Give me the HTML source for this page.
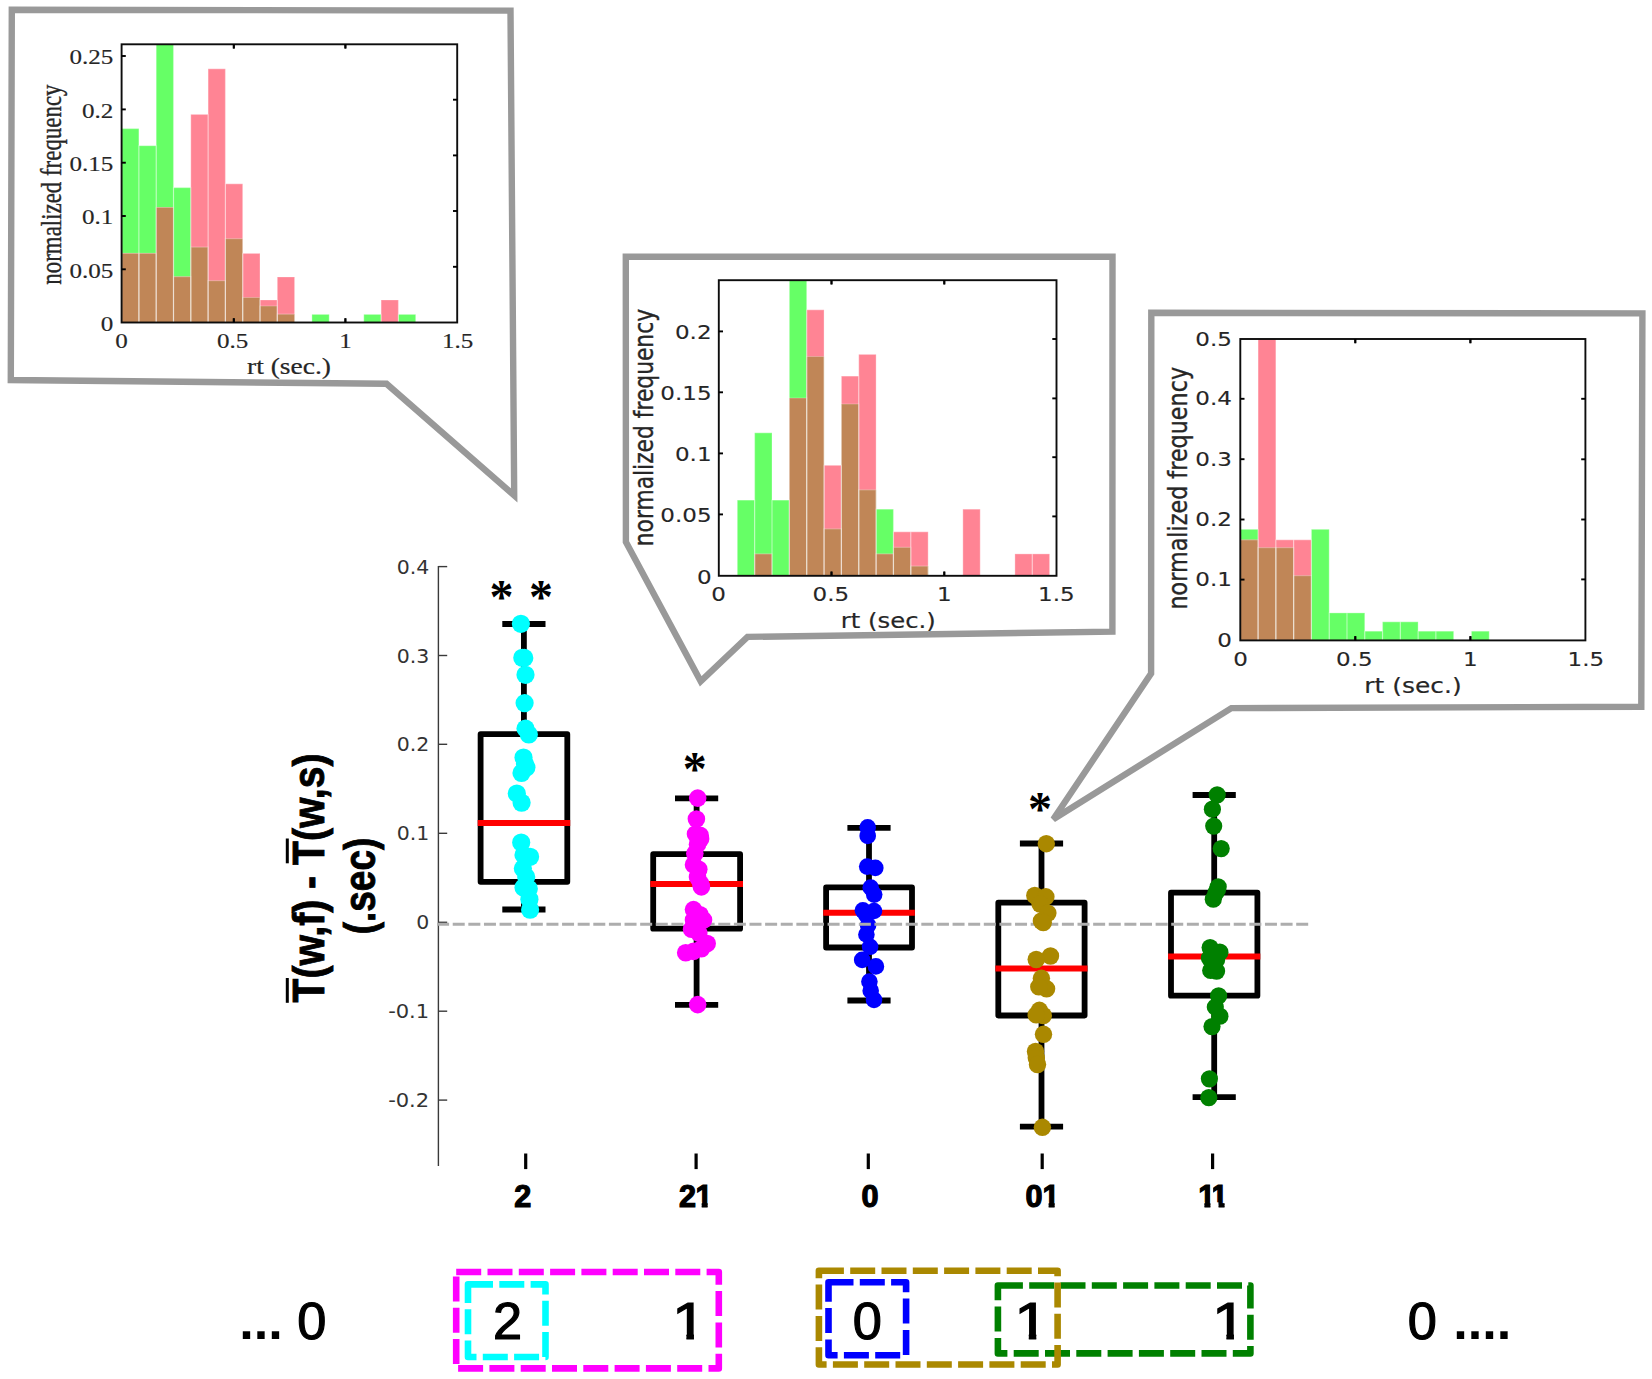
<!DOCTYPE html>
<html lang="en"><head><meta charset="utf-8"><title>Figure</title>
<style>html,body{margin:0;padding:0;background:#fff;overflow:hidden}svg{display:block}text{white-space:pre}</style></head><body>
<svg width="1652" height="1379" viewBox="0 0 1652 1379">
<rect width="1652" height="1379" fill="#fff"/>
<polygon points="11.8,9.7 510.5,10.6 514.2,495.4 386.5,383.8 10.8,380" fill="#fff" stroke="#999999" stroke-width="6.4" stroke-linejoin="miter"/>
<polygon points="625.8,256.7 1112.5,256.7 1112.4,631.6 747.5,636.9 700.7,681.2 625.9,542" fill="#fff" stroke="#999999" stroke-width="6.4" stroke-linejoin="miter"/>
<polygon points="1151.3,312.8 1642.4,313.4 1641.3,706.8 1231.4,708.1 1053.3,819.3 1151.1,673.5" fill="#fff" stroke="#999999" stroke-width="6.4" stroke-linejoin="miter"/>
<rect x="121.6" y="128.6" width="17.3" height="193.9" fill="#66ff66"/>
<rect x="121.6" y="253.4" width="17.3" height="69.1" fill="#ff8494"/>
<rect x="121.6" y="253.4" width="17.3" height="69.1" fill="#c08657"/>
<rect x="138.9" y="145.7" width="17.3" height="176.8" fill="#66ff66"/>
<rect x="138.9" y="253.4" width="17.3" height="69.1" fill="#ff8494"/>
<rect x="138.9" y="253.4" width="17.3" height="69.1" fill="#c08657"/>
<rect x="156.2" y="44.3" width="17.3" height="278.2" fill="#66ff66"/>
<rect x="156.2" y="207.5" width="17.3" height="115" fill="#ff8494"/>
<rect x="156.2" y="207.5" width="17.3" height="115" fill="#c08657"/>
<rect x="173.5" y="187.6" width="17.3" height="134.9" fill="#66ff66"/>
<rect x="173.5" y="276.7" width="17.3" height="45.8" fill="#ff8494"/>
<rect x="173.5" y="276.7" width="17.3" height="45.8" fill="#c08657"/>
<rect x="190.8" y="247.1" width="17.3" height="75.4" fill="#66ff66"/>
<rect x="190.8" y="114.4" width="17.3" height="208.1" fill="#ff8494"/>
<rect x="190.8" y="247.1" width="17.3" height="75.4" fill="#c08657"/>
<rect x="208.1" y="280.7" width="17.3" height="41.8" fill="#66ff66"/>
<rect x="208.1" y="68.8" width="17.3" height="253.7" fill="#ff8494"/>
<rect x="208.1" y="280.7" width="17.3" height="41.8" fill="#c08657"/>
<rect x="225.4" y="238.7" width="17.3" height="83.8" fill="#66ff66"/>
<rect x="225.4" y="183.8" width="17.3" height="138.7" fill="#ff8494"/>
<rect x="225.4" y="238.7" width="17.3" height="83.8" fill="#c08657"/>
<rect x="242.7" y="297.5" width="17.3" height="25" fill="#66ff66"/>
<rect x="242.7" y="253.4" width="17.3" height="69.1" fill="#ff8494"/>
<rect x="242.7" y="297.5" width="17.3" height="25" fill="#c08657"/>
<rect x="260" y="306" width="17.3" height="16.5" fill="#66ff66"/>
<rect x="260" y="300" width="17.3" height="22.5" fill="#ff8494"/>
<rect x="260" y="306" width="17.3" height="16.5" fill="#c08657"/>
<rect x="277.3" y="314.2" width="17.3" height="8.3" fill="#66ff66"/>
<rect x="277.3" y="277" width="17.3" height="45.5" fill="#ff8494"/>
<rect x="277.3" y="314.2" width="17.3" height="8.3" fill="#c08657"/>
<rect x="311.9" y="314.4" width="17.3" height="8.1" fill="#66ff66"/>
<rect x="363.8" y="314.4" width="17.3" height="8.1" fill="#66ff66"/>
<rect x="381.1" y="300" width="17.3" height="22.5" fill="#ff8494"/>
<rect x="398.4" y="314.4" width="17.3" height="8.1" fill="#66ff66"/>
<g fill="none" stroke="#fff" stroke-opacity="0.26" stroke-width="1.2">
<path d="M121.6 322.5 V128.6 H138.9 V322.5"/>
<path d="M121.6 322.5 V253.4 H138.9 V322.5"/>
<path d="M138.9 322.5 V145.7 H156.2 V322.5"/>
<path d="M138.9 322.5 V253.4 H156.2 V322.5"/>
<path d="M156.2 322.5 V42.3 H173.5 V322.5"/>
<path d="M156.2 322.5 V207.5 H173.5 V322.5"/>
<path d="M173.5 322.5 V187.6 H190.8 V322.5"/>
<path d="M173.5 322.5 V276.7 H190.8 V322.5"/>
<path d="M190.8 322.5 V247.1 H208.1 V322.5"/>
<path d="M190.8 322.5 V114.4 H208.1 V322.5"/>
<path d="M208.1 322.5 V280.7 H225.4 V322.5"/>
<path d="M208.1 322.5 V68.8 H225.4 V322.5"/>
<path d="M225.4 322.5 V238.7 H242.7 V322.5"/>
<path d="M225.4 322.5 V183.8 H242.7 V322.5"/>
<path d="M242.7 322.5 V297.5 H260 V322.5"/>
<path d="M242.7 322.5 V253.4 H260 V322.5"/>
<path d="M260 322.5 V306 H277.3 V322.5"/>
<path d="M260 322.5 V300 H277.3 V322.5"/>
<path d="M277.3 322.5 V314.2 H294.6 V322.5"/>
<path d="M277.3 322.5 V277 H294.6 V322.5"/>
<path d="M311.9 322.5 V314.4 H329.2 V322.5"/>
<path d="M363.8 322.5 V314.4 H381.1 V322.5"/>
<path d="M381.1 322.5 V300 H398.4 V322.5"/>
<path d="M398.4 322.5 V314.4 H415.7 V322.5"/>
</g>
<rect x="121.6" y="44.3" width="335.6" height="278.2" fill="none" stroke="#0d0d0d" stroke-width="1.9"/>
<line x1="121.6" y1="56" x2="125.8" y2="56" stroke="#000" stroke-width="1.9"/>
<text transform="translate(113.4 64.42) scale(1.2 1)" font-family="'Liberation Serif', serif" font-size="20.9" text-anchor="end" font-weight="normal" fill="#262626" stroke="#262626" stroke-width="0.15">0.25</text>
<line x1="121.6" y1="109.4" x2="125.8" y2="109.4" stroke="#000" stroke-width="1.9"/>
<text transform="translate(113.4 117.82) scale(1.2 1)" font-family="'Liberation Serif', serif" font-size="20.9" text-anchor="end" font-weight="normal" fill="#262626" stroke="#262626" stroke-width="0.15">0.2</text>
<line x1="121.6" y1="162.7" x2="125.8" y2="162.7" stroke="#000" stroke-width="1.9"/>
<text transform="translate(113.4 171.12) scale(1.2 1)" font-family="'Liberation Serif', serif" font-size="20.9" text-anchor="end" font-weight="normal" fill="#262626" stroke="#262626" stroke-width="0.15">0.15</text>
<line x1="121.6" y1="216" x2="125.8" y2="216" stroke="#000" stroke-width="1.9"/>
<text transform="translate(113.4 224.42) scale(1.2 1)" font-family="'Liberation Serif', serif" font-size="20.9" text-anchor="end" font-weight="normal" fill="#262626" stroke="#262626" stroke-width="0.15">0.1</text>
<line x1="121.6" y1="269.3" x2="125.8" y2="269.3" stroke="#000" stroke-width="1.9"/>
<text transform="translate(113.4 277.72) scale(1.2 1)" font-family="'Liberation Serif', serif" font-size="20.9" text-anchor="end" font-weight="normal" fill="#262626" stroke="#262626" stroke-width="0.15">0.05</text>
<text transform="translate(113.4 330.92) scale(1.2 1)" font-family="'Liberation Serif', serif" font-size="20.9" text-anchor="end" font-weight="normal" fill="#262626" stroke="#262626" stroke-width="0.15">0</text>
<line x1="453" y1="99.7" x2="457.2" y2="99.7" stroke="#000" stroke-width="1.9"/>
<line x1="453" y1="155.4" x2="457.2" y2="155.4" stroke="#000" stroke-width="1.9"/>
<line x1="453" y1="211" x2="457.2" y2="211" stroke="#000" stroke-width="1.9"/>
<line x1="453" y1="266.8" x2="457.2" y2="266.8" stroke="#000" stroke-width="1.9"/>
<line x1="233.8" y1="322.5" x2="233.8" y2="318.3" stroke="#000" stroke-width="1.9"/>
<line x1="233.8" y1="44.3" x2="233.8" y2="48.5" stroke="#000" stroke-width="1.9"/>
<text transform="translate(121.4 348.3) scale(1.2 1)" font-family="'Liberation Serif', serif" font-size="20.9" text-anchor="middle" font-weight="normal" fill="#262626" stroke="#262626" stroke-width="0.15">0</text>
<line x1="233.8" y1="322.5" x2="233.8" y2="318.3" stroke="#000" stroke-width="1.9"/>
<line x1="233.8" y1="44.3" x2="233.8" y2="48.5" stroke="#000" stroke-width="1.9"/>
<text transform="translate(232.6 348.3) scale(1.2 1)" font-family="'Liberation Serif', serif" font-size="20.9" text-anchor="middle" font-weight="normal" fill="#262626" stroke="#262626" stroke-width="0.15">0.5</text>
<line x1="345.4" y1="322.5" x2="345.4" y2="318.3" stroke="#000" stroke-width="1.9"/>
<line x1="345.4" y1="44.3" x2="345.4" y2="48.5" stroke="#000" stroke-width="1.9"/>
<text transform="translate(345.5 348.3) scale(1.2 1)" font-family="'Liberation Serif', serif" font-size="20.9" text-anchor="middle" font-weight="normal" fill="#262626" stroke="#262626" stroke-width="0.15">1</text>
<line x1="345.4" y1="322.5" x2="345.4" y2="318.3" stroke="#000" stroke-width="1.9"/>
<line x1="345.4" y1="44.3" x2="345.4" y2="48.5" stroke="#000" stroke-width="1.9"/>
<text transform="translate(457.6 348.3) scale(1.2 1)" font-family="'Liberation Serif', serif" font-size="20.9" text-anchor="middle" font-weight="normal" fill="#262626" stroke="#262626" stroke-width="0.15">1.5</text>
<text transform="translate(61 184.6) scale(1.24 1) rotate(-90)" font-family="'Liberation Serif', serif" font-size="22.9" text-anchor="middle" font-weight="normal" fill="#262626" stroke="#262626" stroke-width="0.3">normalized frequency</text>
<text transform="translate(289 374.4) scale(1.2 1)" font-family="'Liberation Serif', serif" font-size="22.9" text-anchor="middle" font-weight="normal" fill="#262626" stroke="#262626" stroke-width="0.2">rt (sec.)</text>
<rect x="737.3" y="500.1" width="17.35" height="75.7" fill="#66ff66"/>
<rect x="754.65" y="432.8" width="17.35" height="143" fill="#66ff66"/>
<rect x="754.65" y="553.9" width="17.35" height="21.9" fill="#ff8494"/>
<rect x="754.65" y="553.9" width="17.35" height="21.9" fill="#c08657"/>
<rect x="772" y="500.1" width="17.35" height="75.7" fill="#66ff66"/>
<rect x="789.35" y="280.2" width="17.35" height="295.6" fill="#66ff66"/>
<rect x="789.35" y="398" width="17.35" height="177.8" fill="#ff8494"/>
<rect x="789.35" y="398" width="17.35" height="177.8" fill="#c08657"/>
<rect x="806.7" y="356.5" width="17.35" height="219.3" fill="#66ff66"/>
<rect x="806.7" y="309.8" width="17.35" height="266" fill="#ff8494"/>
<rect x="806.7" y="356.5" width="17.35" height="219.3" fill="#c08657"/>
<rect x="824.05" y="528.8" width="17.35" height="47" fill="#66ff66"/>
<rect x="824.05" y="465.3" width="17.35" height="110.5" fill="#ff8494"/>
<rect x="824.05" y="528.8" width="17.35" height="47" fill="#c08657"/>
<rect x="841.4" y="404" width="17.35" height="171.8" fill="#66ff66"/>
<rect x="841.4" y="376.1" width="17.35" height="199.7" fill="#ff8494"/>
<rect x="841.4" y="404" width="17.35" height="171.8" fill="#c08657"/>
<rect x="858.75" y="489.8" width="17.35" height="86" fill="#66ff66"/>
<rect x="858.75" y="354.4" width="17.35" height="221.4" fill="#ff8494"/>
<rect x="858.75" y="489.8" width="17.35" height="86" fill="#c08657"/>
<rect x="876.1" y="509.2" width="17.35" height="66.6" fill="#66ff66"/>
<rect x="876.1" y="553.9" width="17.35" height="21.9" fill="#ff8494"/>
<rect x="876.1" y="553.9" width="17.35" height="21.9" fill="#c08657"/>
<rect x="893.45" y="547.3" width="17.35" height="28.5" fill="#66ff66"/>
<rect x="893.45" y="531.8" width="17.35" height="44" fill="#ff8494"/>
<rect x="893.45" y="547.3" width="17.35" height="28.5" fill="#c08657"/>
<rect x="910.8" y="566.1" width="17.35" height="9.7" fill="#66ff66"/>
<rect x="910.8" y="531.8" width="17.35" height="44" fill="#ff8494"/>
<rect x="910.8" y="566.1" width="17.35" height="9.7" fill="#c08657"/>
<rect x="962.85" y="509.2" width="17.35" height="66.6" fill="#ff8494"/>
<rect x="1014.9" y="553.9" width="17.35" height="21.9" fill="#ff8494"/>
<rect x="1032.25" y="553.9" width="17.35" height="21.9" fill="#ff8494"/>
<g fill="none" stroke="#fff" stroke-opacity="0.26" stroke-width="1.2">
<path d="M737.3 575.8 V500.1 H754.65 V575.8"/>
<path d="M754.65 575.8 V432.8 H772 V575.8"/>
<path d="M754.65 575.8 V553.9 H772 V575.8"/>
<path d="M772 575.8 V500.1 H789.35 V575.8"/>
<path d="M789.35 575.8 V278.2 H806.7 V575.8"/>
<path d="M789.35 575.8 V398 H806.7 V575.8"/>
<path d="M806.7 575.8 V356.5 H824.05 V575.8"/>
<path d="M806.7 575.8 V309.8 H824.05 V575.8"/>
<path d="M824.05 575.8 V528.8 H841.4 V575.8"/>
<path d="M824.05 575.8 V465.3 H841.4 V575.8"/>
<path d="M841.4 575.8 V404 H858.75 V575.8"/>
<path d="M841.4 575.8 V376.1 H858.75 V575.8"/>
<path d="M858.75 575.8 V489.8 H876.1 V575.8"/>
<path d="M858.75 575.8 V354.4 H876.1 V575.8"/>
<path d="M876.1 575.8 V509.2 H893.45 V575.8"/>
<path d="M876.1 575.8 V553.9 H893.45 V575.8"/>
<path d="M893.45 575.8 V547.3 H910.8 V575.8"/>
<path d="M893.45 575.8 V531.8 H910.8 V575.8"/>
<path d="M910.8 575.8 V566.1 H928.15 V575.8"/>
<path d="M910.8 575.8 V531.8 H928.15 V575.8"/>
<path d="M962.85 575.8 V509.2 H980.2 V575.8"/>
<path d="M1014.9 575.8 V553.9 H1032.25 V575.8"/>
<path d="M1032.25 575.8 V553.9 H1049.6 V575.8"/>
</g>
<rect x="718.8" y="280.2" width="337.7" height="295.6" fill="none" stroke="#0d0d0d" stroke-width="1.9"/>
<line x1="718.8" y1="331.4" x2="723" y2="331.4" stroke="#000" stroke-width="1.9"/>
<text transform="translate(711.6 339.17) scale(1.14 1)" font-family="'DejaVu Sans', 'Liberation Sans', sans-serif" font-size="20.2" text-anchor="end" font-weight="normal" fill="#262626" stroke="#262626" stroke-width="0.12">0.2</text>
<line x1="718.8" y1="392.3" x2="723" y2="392.3" stroke="#000" stroke-width="1.9"/>
<text transform="translate(711.6 400.07) scale(1.14 1)" font-family="'DejaVu Sans', 'Liberation Sans', sans-serif" font-size="20.2" text-anchor="end" font-weight="normal" fill="#262626" stroke="#262626" stroke-width="0.12">0.15</text>
<line x1="718.8" y1="453.4" x2="723" y2="453.4" stroke="#000" stroke-width="1.9"/>
<text transform="translate(711.6 461.17) scale(1.14 1)" font-family="'DejaVu Sans', 'Liberation Sans', sans-serif" font-size="20.2" text-anchor="end" font-weight="normal" fill="#262626" stroke="#262626" stroke-width="0.12">0.1</text>
<line x1="718.8" y1="514.4" x2="723" y2="514.4" stroke="#000" stroke-width="1.9"/>
<text transform="translate(711.6 522.17) scale(1.14 1)" font-family="'DejaVu Sans', 'Liberation Sans', sans-serif" font-size="20.2" text-anchor="end" font-weight="normal" fill="#262626" stroke="#262626" stroke-width="0.12">0.05</text>
<text transform="translate(711.6 583.57) scale(1.14 1)" font-family="'DejaVu Sans', 'Liberation Sans', sans-serif" font-size="20.2" text-anchor="end" font-weight="normal" fill="#262626" stroke="#262626" stroke-width="0.12">0</text>
<line x1="1052.3" y1="339" x2="1056.5" y2="339" stroke="#000" stroke-width="1.9"/>
<line x1="1052.3" y1="398.4" x2="1056.5" y2="398.4" stroke="#000" stroke-width="1.9"/>
<line x1="1052.3" y1="457.2" x2="1056.5" y2="457.2" stroke="#000" stroke-width="1.9"/>
<line x1="1052.3" y1="516.4" x2="1056.5" y2="516.4" stroke="#000" stroke-width="1.9"/>
<line x1="831.5" y1="575.8" x2="831.5" y2="571.6" stroke="#000" stroke-width="1.9"/>
<line x1="831.5" y1="280.2" x2="831.5" y2="284.4" stroke="#000" stroke-width="1.9"/>
<text transform="translate(718.7 601.3) scale(1.14 1)" font-family="'DejaVu Sans', 'Liberation Sans', sans-serif" font-size="20.2" text-anchor="middle" font-weight="normal" fill="#262626" stroke="#262626" stroke-width="0.12">0</text>
<line x1="831.5" y1="575.8" x2="831.5" y2="571.6" stroke="#000" stroke-width="1.9"/>
<line x1="831.5" y1="280.2" x2="831.5" y2="284.4" stroke="#000" stroke-width="1.9"/>
<text transform="translate(830.8 601.3) scale(1.14 1)" font-family="'DejaVu Sans', 'Liberation Sans', sans-serif" font-size="20.2" text-anchor="middle" font-weight="normal" fill="#262626" stroke="#262626" stroke-width="0.12">0.5</text>
<line x1="944.3" y1="575.8" x2="944.3" y2="571.6" stroke="#000" stroke-width="1.9"/>
<line x1="944.3" y1="280.2" x2="944.3" y2="284.4" stroke="#000" stroke-width="1.9"/>
<text transform="translate(944.3 601.3) scale(1.14 1)" font-family="'DejaVu Sans', 'Liberation Sans', sans-serif" font-size="20.2" text-anchor="middle" font-weight="normal" fill="#262626" stroke="#262626" stroke-width="0.12">1</text>
<line x1="944.3" y1="575.8" x2="944.3" y2="571.6" stroke="#000" stroke-width="1.9"/>
<line x1="944.3" y1="280.2" x2="944.3" y2="284.4" stroke="#000" stroke-width="1.9"/>
<text transform="translate(1056.4 601.3) scale(1.14 1)" font-family="'DejaVu Sans', 'Liberation Sans', sans-serif" font-size="20.2" text-anchor="middle" font-weight="normal" fill="#262626" stroke="#262626" stroke-width="0.12">1.5</text>
<text transform="translate(652.6 427.6) scale(1.2 1) rotate(-90)" font-family="'DejaVu Sans', 'Liberation Sans', sans-serif" font-size="21.8" text-anchor="middle" font-weight="normal" fill="#262626" stroke="#262626" stroke-width="0.3">normalized frequency</text>
<text transform="translate(888.3 627.5) scale(1.18 1)" font-family="'DejaVu Sans', 'Liberation Sans', sans-serif" font-size="20.6" text-anchor="middle" font-weight="normal" fill="#262626" stroke="#262626" stroke-width="0.18">rt (sec.)</text>
<rect x="1240.3" y="529.3" width="17.78" height="111.1" fill="#66ff66"/>
<rect x="1240.3" y="539.8" width="17.78" height="100.6" fill="#ff8494"/>
<rect x="1240.3" y="539.8" width="17.78" height="100.6" fill="#c08657"/>
<rect x="1258.08" y="547.6" width="17.78" height="92.8" fill="#66ff66"/>
<rect x="1258.08" y="339" width="17.78" height="301.4" fill="#ff8494"/>
<rect x="1258.08" y="547.6" width="17.78" height="92.8" fill="#c08657"/>
<rect x="1275.86" y="547.6" width="17.78" height="92.8" fill="#66ff66"/>
<rect x="1275.86" y="539.8" width="17.78" height="100.6" fill="#ff8494"/>
<rect x="1275.86" y="547.6" width="17.78" height="92.8" fill="#c08657"/>
<rect x="1293.64" y="575.6" width="17.78" height="64.8" fill="#66ff66"/>
<rect x="1293.64" y="539.8" width="17.78" height="100.6" fill="#ff8494"/>
<rect x="1293.64" y="575.6" width="17.78" height="64.8" fill="#c08657"/>
<rect x="1311.42" y="529.3" width="17.78" height="111.1" fill="#66ff66"/>
<rect x="1329.2" y="612.9" width="17.78" height="27.5" fill="#66ff66"/>
<rect x="1346.98" y="612.9" width="17.78" height="27.5" fill="#66ff66"/>
<rect x="1364.76" y="631.2" width="17.78" height="9.2" fill="#66ff66"/>
<rect x="1382.54" y="621.8" width="17.78" height="18.6" fill="#66ff66"/>
<rect x="1400.32" y="621.8" width="17.78" height="18.6" fill="#66ff66"/>
<rect x="1418.1" y="631.2" width="17.78" height="9.2" fill="#66ff66"/>
<rect x="1435.88" y="631.2" width="17.78" height="9.2" fill="#66ff66"/>
<rect x="1471.44" y="631.2" width="17.78" height="9.2" fill="#66ff66"/>
<g fill="none" stroke="#fff" stroke-opacity="0.26" stroke-width="1.2">
<path d="M1240.3 640.4 V529.3 H1258.08 V640.4"/>
<path d="M1240.3 640.4 V539.8 H1258.08 V640.4"/>
<path d="M1258.08 640.4 V547.6 H1275.86 V640.4"/>
<path d="M1258.08 640.4 V337 H1275.86 V640.4"/>
<path d="M1275.86 640.4 V547.6 H1293.64 V640.4"/>
<path d="M1275.86 640.4 V539.8 H1293.64 V640.4"/>
<path d="M1293.64 640.4 V575.6 H1311.42 V640.4"/>
<path d="M1293.64 640.4 V539.8 H1311.42 V640.4"/>
<path d="M1311.42 640.4 V529.3 H1329.2 V640.4"/>
<path d="M1329.2 640.4 V612.9 H1346.98 V640.4"/>
<path d="M1346.98 640.4 V612.9 H1364.76 V640.4"/>
<path d="M1364.76 640.4 V631.2 H1382.54 V640.4"/>
<path d="M1382.54 640.4 V621.8 H1400.32 V640.4"/>
<path d="M1400.32 640.4 V621.8 H1418.1 V640.4"/>
<path d="M1418.1 640.4 V631.2 H1435.88 V640.4"/>
<path d="M1435.88 640.4 V631.2 H1453.66 V640.4"/>
<path d="M1471.44 640.4 V631.2 H1489.22 V640.4"/>
</g>
<rect x="1240.3" y="339" width="345.1" height="301.4" fill="none" stroke="#0d0d0d" stroke-width="1.9"/>
<text transform="translate(1231.9 345.77) scale(1.14 1)" font-family="'DejaVu Sans', 'Liberation Sans', sans-serif" font-size="20.2" text-anchor="end" font-weight="normal" fill="#262626" stroke="#262626" stroke-width="0.12">0.5</text>
<line x1="1240.3" y1="398.8" x2="1244.5" y2="398.8" stroke="#000" stroke-width="1.9"/>
<text transform="translate(1231.9 405.17) scale(1.14 1)" font-family="'DejaVu Sans', 'Liberation Sans', sans-serif" font-size="20.2" text-anchor="end" font-weight="normal" fill="#262626" stroke="#262626" stroke-width="0.12">0.4</text>
<line x1="1240.3" y1="459.2" x2="1244.5" y2="459.2" stroke="#000" stroke-width="1.9"/>
<text transform="translate(1231.9 465.57) scale(1.14 1)" font-family="'DejaVu Sans', 'Liberation Sans', sans-serif" font-size="20.2" text-anchor="end" font-weight="normal" fill="#262626" stroke="#262626" stroke-width="0.12">0.3</text>
<line x1="1240.3" y1="519.5" x2="1244.5" y2="519.5" stroke="#000" stroke-width="1.9"/>
<text transform="translate(1231.9 525.87) scale(1.14 1)" font-family="'DejaVu Sans', 'Liberation Sans', sans-serif" font-size="20.2" text-anchor="end" font-weight="normal" fill="#262626" stroke="#262626" stroke-width="0.12">0.2</text>
<line x1="1240.3" y1="579.6" x2="1244.5" y2="579.6" stroke="#000" stroke-width="1.9"/>
<text transform="translate(1231.9 585.97) scale(1.14 1)" font-family="'DejaVu Sans', 'Liberation Sans', sans-serif" font-size="20.2" text-anchor="end" font-weight="normal" fill="#262626" stroke="#262626" stroke-width="0.12">0.1</text>
<text transform="translate(1231.9 647.17) scale(1.14 1)" font-family="'DejaVu Sans', 'Liberation Sans', sans-serif" font-size="20.2" text-anchor="end" font-weight="normal" fill="#262626" stroke="#262626" stroke-width="0.12">0</text>
<line x1="1581.2" y1="398.8" x2="1585.4" y2="398.8" stroke="#000" stroke-width="1.9"/>
<line x1="1581.2" y1="459.3" x2="1585.4" y2="459.3" stroke="#000" stroke-width="1.9"/>
<line x1="1581.2" y1="519.5" x2="1585.4" y2="519.5" stroke="#000" stroke-width="1.9"/>
<line x1="1581.2" y1="579.4" x2="1585.4" y2="579.4" stroke="#000" stroke-width="1.9"/>
<line x1="1355.3" y1="640.4" x2="1355.3" y2="636.2" stroke="#000" stroke-width="1.9"/>
<line x1="1355.3" y1="339" x2="1355.3" y2="343.2" stroke="#000" stroke-width="1.9"/>
<text transform="translate(1240.5 666.2) scale(1.14 1)" font-family="'DejaVu Sans', 'Liberation Sans', sans-serif" font-size="20.2" text-anchor="middle" font-weight="normal" fill="#262626" stroke="#262626" stroke-width="0.12">0</text>
<line x1="1355.3" y1="640.4" x2="1355.3" y2="636.2" stroke="#000" stroke-width="1.9"/>
<line x1="1355.3" y1="339" x2="1355.3" y2="343.2" stroke="#000" stroke-width="1.9"/>
<text transform="translate(1354.4 666.2) scale(1.14 1)" font-family="'DejaVu Sans', 'Liberation Sans', sans-serif" font-size="20.2" text-anchor="middle" font-weight="normal" fill="#262626" stroke="#262626" stroke-width="0.12">0.5</text>
<line x1="1470.4" y1="640.4" x2="1470.4" y2="636.2" stroke="#000" stroke-width="1.9"/>
<line x1="1470.4" y1="339" x2="1470.4" y2="343.2" stroke="#000" stroke-width="1.9"/>
<text transform="translate(1470.4 666.2) scale(1.14 1)" font-family="'DejaVu Sans', 'Liberation Sans', sans-serif" font-size="20.2" text-anchor="middle" font-weight="normal" fill="#262626" stroke="#262626" stroke-width="0.12">1</text>
<line x1="1470.4" y1="640.4" x2="1470.4" y2="636.2" stroke="#000" stroke-width="1.9"/>
<line x1="1470.4" y1="339" x2="1470.4" y2="343.2" stroke="#000" stroke-width="1.9"/>
<text transform="translate(1585.8 666.2) scale(1.14 1)" font-family="'DejaVu Sans', 'Liberation Sans', sans-serif" font-size="20.2" text-anchor="middle" font-weight="normal" fill="#262626" stroke="#262626" stroke-width="0.12">1.5</text>
<text transform="translate(1187.1 488.2) scale(1.17 1) rotate(-90)" font-family="'DejaVu Sans', 'Liberation Sans', sans-serif" font-size="22.3" text-anchor="middle" font-weight="normal" fill="#262626" stroke="#262626" stroke-width="0.3">normalized frequency</text>
<text transform="translate(1413 692.7) scale(1.21 1)" font-family="'DejaVu Sans', 'Liberation Sans', sans-serif" font-size="20.6" text-anchor="middle" font-weight="normal" fill="#262626" stroke="#262626" stroke-width="0.18">rt (sec.)</text>
<line x1="438.4" y1="566" x2="438.4" y2="1166" stroke="#3a3a3a" stroke-width="1.4"/>
<line x1="438.4" y1="566.6" x2="447.2" y2="566.6" stroke="#3a3a3a" stroke-width="1.4"/>
<text transform="translate(429.2 573.75) scale(1.05 1)" font-family="'DejaVu Sans', 'Liberation Sans', sans-serif" font-size="19.5" text-anchor="end" font-weight="normal" fill="#333" >0.4</text>
<line x1="438.4" y1="655.5" x2="447.2" y2="655.5" stroke="#3a3a3a" stroke-width="1.4"/>
<text transform="translate(429.2 662.65) scale(1.05 1)" font-family="'DejaVu Sans', 'Liberation Sans', sans-serif" font-size="19.5" text-anchor="end" font-weight="normal" fill="#333" >0.3</text>
<line x1="438.4" y1="744.3" x2="447.2" y2="744.3" stroke="#3a3a3a" stroke-width="1.4"/>
<text transform="translate(429.2 751.45) scale(1.05 1)" font-family="'DejaVu Sans', 'Liberation Sans', sans-serif" font-size="19.5" text-anchor="end" font-weight="normal" fill="#333" >0.2</text>
<line x1="438.4" y1="833.3" x2="447.2" y2="833.3" stroke="#3a3a3a" stroke-width="1.4"/>
<text transform="translate(429.2 840.45) scale(1.05 1)" font-family="'DejaVu Sans', 'Liberation Sans', sans-serif" font-size="19.5" text-anchor="end" font-weight="normal" fill="#333" >0.1</text>
<line x1="438.4" y1="922.3" x2="447.2" y2="922.3" stroke="#3a3a3a" stroke-width="1.4"/>
<text transform="translate(429.2 929.45) scale(1.05 1)" font-family="'DejaVu Sans', 'Liberation Sans', sans-serif" font-size="19.5" text-anchor="end" font-weight="normal" fill="#333" >0</text>
<line x1="438.4" y1="1011.2" x2="447.2" y2="1011.2" stroke="#3a3a3a" stroke-width="1.4"/>
<text transform="translate(429.2 1018.35) scale(1.08 1)" font-family="'DejaVu Sans', 'Liberation Sans', sans-serif" font-size="19.5" text-anchor="end" font-weight="normal" fill="#333" >-0.1</text>
<line x1="438.4" y1="1100.1" x2="447.2" y2="1100.1" stroke="#3a3a3a" stroke-width="1.4"/>
<text transform="translate(429.2 1107.25) scale(1.08 1)" font-family="'DejaVu Sans', 'Liberation Sans', sans-serif" font-size="19.5" text-anchor="end" font-weight="normal" fill="#333" >-0.2</text>
<g stroke="#000" stroke-width="5.8" fill="none">
<line x1="523.9" y1="624" x2="523.9" y2="734.2"/>
<line x1="523.9" y1="881.8" x2="523.9" y2="909.5"/>
<line x1="502.3" y1="624" x2="545.5" y2="624"/>
<line x1="502.3" y1="909.5" x2="545.5" y2="909.5"/>
<rect x="480.6" y="734.2" width="86.7" height="147.6" stroke-linejoin="round"/>
</g>
<line x1="477.7" y1="823" x2="570.2" y2="823" stroke="#ff0000" stroke-width="6"/>
<g stroke="#000" stroke-width="5.8" fill="none">
<line x1="696.6" y1="798.4" x2="696.6" y2="854.2"/>
<line x1="696.6" y1="928.7" x2="696.6" y2="1004.9"/>
<line x1="675" y1="798.4" x2="718.2" y2="798.4"/>
<line x1="675" y1="1004.9" x2="718.2" y2="1004.9"/>
<rect x="653.2" y="854.2" width="86.9" height="74.5" stroke-linejoin="round"/>
</g>
<line x1="650.3" y1="883.9" x2="743" y2="883.9" stroke="#ff0000" stroke-width="6"/>
<g stroke="#000" stroke-width="5.8" fill="none">
<line x1="869" y1="827.9" x2="869" y2="887.3"/>
<line x1="869" y1="947.5" x2="869" y2="1000.5"/>
<line x1="847.4" y1="827.9" x2="890.6" y2="827.9"/>
<line x1="847.4" y1="1000.5" x2="890.6" y2="1000.5"/>
<rect x="826.1" y="887.3" width="85.9" height="60.2" stroke-linejoin="round"/>
</g>
<line x1="823.2" y1="912.7" x2="914.9" y2="912.7" stroke="#ff0000" stroke-width="6"/>
<g stroke="#000" stroke-width="5.8" fill="none">
<line x1="1041.5" y1="843.5" x2="1041.5" y2="902.7"/>
<line x1="1041.5" y1="1015.5" x2="1041.5" y2="1126.6"/>
<line x1="1019.9" y1="843.5" x2="1063.1" y2="843.5"/>
<line x1="1019.9" y1="1126.6" x2="1063.1" y2="1126.6"/>
<rect x="998.3" y="902.7" width="86.3" height="112.8" stroke-linejoin="round"/>
</g>
<line x1="995.4" y1="968.5" x2="1087.5" y2="968.5" stroke="#ff0000" stroke-width="6"/>
<g stroke="#000" stroke-width="5.8" fill="none">
<line x1="1214.2" y1="795" x2="1214.2" y2="892.7"/>
<line x1="1214.2" y1="995.7" x2="1214.2" y2="1097.1"/>
<line x1="1192.6" y1="795" x2="1235.8" y2="795"/>
<line x1="1192.6" y1="1097.1" x2="1235.8" y2="1097.1"/>
<rect x="1171" y="892.7" width="86.4" height="103" stroke-linejoin="round"/>
</g>
<line x1="1168.1" y1="956.4" x2="1260.3" y2="956.4" stroke="#ff0000" stroke-width="6"/>
<g fill="#0000ff">
<circle cx="867.7" cy="827.4" r="8.3"/>
<circle cx="867.7" cy="835.9" r="8.3"/>
<circle cx="867.2" cy="866.6" r="8.3"/>
<circle cx="875.3" cy="867.9" r="8.3"/>
<circle cx="870.7" cy="887.5" r="8.3"/>
<circle cx="874.2" cy="894.6" r="8.3"/>
<circle cx="862.9" cy="910.3" r="8.3"/>
<circle cx="874" cy="911" r="8.3"/>
<circle cx="866.2" cy="914.9" r="8.3"/>
<circle cx="868.1" cy="925.3" r="8.3"/>
<circle cx="866.4" cy="934.5" r="8.3"/>
<circle cx="870.1" cy="946.8" r="8.3"/>
<circle cx="862.2" cy="959.9" r="8.3"/>
<circle cx="875.9" cy="966.4" r="8.3"/>
<circle cx="869.4" cy="981.5" r="8.3"/>
<circle cx="870.7" cy="990.7" r="8.3"/>
<circle cx="874" cy="999.9" r="8.3"/>
</g>
<line x1="437.1" y1="924.3" x2="1308.8" y2="924.3" stroke="#adadad" stroke-width="2.9" stroke-dasharray="12 3.62"/>
<g fill="#00ffff">
<circle cx="520.9" cy="623.8" r="9.1"/>
<circle cx="522.3" cy="657.8" r="9.1"/>
<circle cx="524.3" cy="657.9" r="9.1"/>
<circle cx="525.5" cy="674.8" r="9.1"/>
<circle cx="524.6" cy="703.1" r="9.1"/>
<circle cx="525.5" cy="728.6" r="9.1"/>
<circle cx="528.8" cy="734.5" r="9.1"/>
<circle cx="523.5" cy="757.5" r="9.1"/>
<circle cx="525" cy="764" r="9.1"/>
<circle cx="526.4" cy="767.5" r="9.1"/>
<circle cx="521.5" cy="773" r="9.1"/>
<circle cx="516.8" cy="793.5" r="9.1"/>
<circle cx="521.6" cy="802.7" r="9.1"/>
<circle cx="521.2" cy="842.5" r="9.1"/>
<circle cx="530.1" cy="856.8" r="9.1"/>
<circle cx="523.5" cy="854.9" r="9.1"/>
<circle cx="522.9" cy="868.6" r="9.1"/>
<circle cx="526.2" cy="877" r="9.1"/>
<circle cx="523.5" cy="887.5" r="9.1"/>
<circle cx="528.8" cy="888.8" r="9.1"/>
<circle cx="529.4" cy="899.2" r="9.1"/>
<circle cx="530.1" cy="909.7" r="9.1"/>
</g>
<g fill="#ff00ff">
<circle cx="697.7" cy="798.1" r="8.8"/>
<circle cx="696.4" cy="819" r="8.8"/>
<circle cx="700.1" cy="835.3" r="8.8"/>
<circle cx="695.5" cy="834" r="8.8"/>
<circle cx="700.6" cy="839" r="8.8"/>
<circle cx="697.5" cy="844.4" r="8.8"/>
<circle cx="694.8" cy="853.6" r="8.8"/>
<circle cx="693.5" cy="864.7" r="8.8"/>
<circle cx="698.8" cy="869.2" r="8.8"/>
<circle cx="697.5" cy="877" r="8.8"/>
<circle cx="700.7" cy="883.6" r="8.8"/>
<circle cx="701.4" cy="886.9" r="8.8"/>
<circle cx="693.5" cy="909.6" r="8.8"/>
<circle cx="700.1" cy="914.8" r="8.8"/>
<circle cx="703.5" cy="920" r="8.8"/>
<circle cx="693.5" cy="920" r="8.8"/>
<circle cx="691.6" cy="929.2" r="8.8"/>
<circle cx="698.8" cy="933.1" r="8.8"/>
<circle cx="707.2" cy="943.5" r="8.8"/>
<circle cx="701.4" cy="948.8" r="8.8"/>
<circle cx="685.7" cy="952.7" r="8.8"/>
<circle cx="693.5" cy="951.4" r="8.8"/>
<circle cx="697.7" cy="1004.6" r="8.8"/>
</g>
<g fill="#aa8800">
<circle cx="1046.3" cy="843.7" r="8.7"/>
<circle cx="1034.8" cy="895.5" r="8.7"/>
<circle cx="1045.9" cy="896.8" r="8.7"/>
<circle cx="1040.1" cy="904" r="8.7"/>
<circle cx="1047.9" cy="913.1" r="8.7"/>
<circle cx="1041.4" cy="921" r="8.7"/>
<circle cx="1043.3" cy="922.5" r="8.7"/>
<circle cx="1050.5" cy="956" r="8.7"/>
<circle cx="1036.2" cy="959.5" r="8.7"/>
<circle cx="1041.4" cy="978.3" r="8.7"/>
<circle cx="1046.6" cy="988.8" r="8.7"/>
<circle cx="1038.8" cy="986.8" r="8.7"/>
<circle cx="1039.4" cy="1010.3" r="8.7"/>
<circle cx="1043.3" cy="1015.5" r="8.7"/>
<circle cx="1036.2" cy="1014.9" r="8.7"/>
<circle cx="1043.5" cy="1034.3" r="8.7"/>
<circle cx="1035.5" cy="1051.5" r="8.7"/>
<circle cx="1036.3" cy="1058" r="8.7"/>
<circle cx="1037.5" cy="1064.5" r="8.7"/>
<circle cx="1042.4" cy="1127.3" r="8.7"/>
</g>
<g fill="#008000">
<circle cx="1217.2" cy="794.8" r="8.6"/>
<circle cx="1212.4" cy="809.2" r="8.6"/>
<circle cx="1213.7" cy="826.1" r="8.6"/>
<circle cx="1221.2" cy="848.6" r="8.6"/>
<circle cx="1218.2" cy="886.8" r="8.6"/>
<circle cx="1215.9" cy="892.7" r="8.6"/>
<circle cx="1213.3" cy="899.2" r="8.6"/>
<circle cx="1217.5" cy="889.5" r="8.6"/>
<circle cx="1210.1" cy="947.6" r="8.6"/>
<circle cx="1219.9" cy="952.2" r="8.6"/>
<circle cx="1209.4" cy="958.1" r="8.6"/>
<circle cx="1216.6" cy="960" r="8.6"/>
<circle cx="1210.7" cy="970.5" r="8.6"/>
<circle cx="1216.6" cy="971.1" r="8.6"/>
<circle cx="1218.6" cy="995.9" r="8.6"/>
<circle cx="1215.3" cy="1007" r="8.6"/>
<circle cx="1219.9" cy="1016.2" r="8.6"/>
<circle cx="1212" cy="1026.6" r="8.6"/>
<circle cx="1209.4" cy="1078.8" r="8.6"/>
<circle cx="1208.8" cy="1097.7" r="8.6"/>
</g>
<text transform="translate(501.4 613.4)" font-family="'Liberation Serif', serif" font-size="48" text-anchor="middle" font-weight="bold" fill="#000" >*</text>
<text transform="translate(540.9 613.4)" font-family="'Liberation Serif', serif" font-size="48" text-anchor="middle" font-weight="bold" fill="#000" >*</text>
<text transform="translate(694.8 784.7)" font-family="'Liberation Serif', serif" font-size="48" text-anchor="middle" font-weight="bold" fill="#000" >*</text>
<text transform="translate(1040 825.2)" font-family="'Liberation Serif', serif" font-size="48" text-anchor="middle" font-weight="bold" fill="#000" >*</text>
<line x1="525.7" y1="1153.5" x2="525.7" y2="1169.1" stroke="#000" stroke-width="3.2"/>
<text transform="translate(514.15 1207.4)" font-family="'Liberation Sans', sans-serif" font-size="30.6" text-anchor="start" font-weight="bold" fill="#000" stroke="#000" stroke-width="1.2" letter-spacing="0">2</text>
<line x1="696.1" y1="1153.5" x2="696.1" y2="1169.1" stroke="#000" stroke-width="3.2"/>
<clipPath id="ct1"><path d="M-0.28 -30.6 H17.11 V3 H-0.28 Z M17.4 -30.6 H28.74 V2 H22.75 V-5.06 H17.4 V-30.6 H17.4 Z"/></clipPath>
<text transform="translate(678.95 1207.4)" font-family="'Liberation Sans', sans-serif" font-size="30.6" text-anchor="start" font-weight="bold" fill="#000" stroke="#000" stroke-width="1.2" letter-spacing="-0.5" clip-path="url(#ct1)">21</text>
<line x1="868.3" y1="1153.5" x2="868.3" y2="1169.1" stroke="#000" stroke-width="3.2"/>
<text transform="translate(861.6 1207.4)" font-family="'Liberation Sans', sans-serif" font-size="30.6" text-anchor="start" font-weight="bold" fill="#000" stroke="#000" stroke-width="1.2" letter-spacing="0">0</text>
<line x1="1042.2" y1="1153.5" x2="1042.2" y2="1169.1" stroke="#000" stroke-width="3.2"/>
<clipPath id="ct3"><path d="M-0.28 -30.6 H17.11 V3 H-0.28 Z M17.7 -30.6 H29.04 V2 H23.05 V-5.06 H17.7 V-30.6 H17.7 Z"/></clipPath>
<text transform="translate(1025.6 1207.4)" font-family="'Liberation Sans', sans-serif" font-size="30.6" text-anchor="start" font-weight="bold" fill="#000" stroke="#000" stroke-width="1.2" letter-spacing="-0.2" clip-path="url(#ct3)">01</text>
<line x1="1212.6" y1="1153.5" x2="1212.6" y2="1169.1" stroke="#000" stroke-width="3.2"/>
<clipPath id="ct4"><path d="M0.88 -30.6 H12.22 V2 H6.23 V-5.06 H0.88 V-30.6 H0.88 Z M15 -30.6 H26.34 V2 H20.35 V-5.06 H15 V-30.6 H15 Z"/></clipPath>
<text transform="translate(1198.2 1207.4)" font-family="'Liberation Sans', sans-serif" font-size="30.6" text-anchor="start" font-weight="bold" fill="#000" stroke="#000" stroke-width="1.2" letter-spacing="-2.9" clip-path="url(#ct4)">11</text>
<text transform="translate(323.8 878) rotate(-90)" font-family="'Liberation Sans', sans-serif" font-size="44" text-anchor="middle" font-weight="bold" fill="#000" stroke="#000" stroke-width="0.9" textLength="249" lengthAdjust="spacingAndGlyphs">T(w,f) - T(w,s)</text>
<text transform="translate(374.6 886) rotate(-90)" font-family="'Liberation Sans', sans-serif" font-size="44" text-anchor="middle" font-weight="bold" fill="#000" stroke="#000" stroke-width="0.9" textLength="96.5" lengthAdjust="spacingAndGlyphs">(.sec)</text>
<rect x="285.8" y="978" width="3" height="24.8" fill="#000"/>
<rect x="285.8" y="838.5" width="3" height="24.8" fill="#000"/>
<path d="M997.9 1285.5 H1250.4 V1353.4 H997.9 Z" fill="none" stroke="#008000" stroke-width="6.6" stroke-dasharray="25 6.3" stroke-linejoin="round"/>
<path d="M456.2 1272 H718.8 V1368.4 H456.2 Z" fill="none" stroke="#ff00ff" stroke-width="6.6" stroke-dasharray="25 6.3" stroke-linejoin="round"/>
<path d="M468 1284.4 H545.5 V1357 H468 Z" fill="none" stroke="#00ffff" stroke-width="6.6" stroke-dasharray="25 6.3" stroke-linejoin="round"/>
<path d="M818.9 1270.8 H1057.6 V1364.5 H818.9 Z" fill="none" stroke="#aa8800" stroke-width="6.6" stroke-dasharray="25 6.3" stroke-linejoin="round"/>
<path d="M828.5 1282.3 H906.1 V1355.3 H828.5 Z" fill="none" stroke="#0000ff" stroke-width="6.6" stroke-dasharray="25 6.3" stroke-linejoin="round"/>
<text transform="translate(297.36 1339)" font-family="'Liberation Sans', sans-serif" font-size="52.3" text-anchor="start" font-weight="normal" fill="#000" stroke="#000" stroke-width="1.2">0</text>
<text transform="translate(239.14 1339)" font-family="'Liberation Sans', sans-serif" font-size="52.3" text-anchor="start" font-weight="bold" fill="#000" >...</text>
<text transform="translate(492.88 1339)" font-family="'Liberation Sans', sans-serif" font-size="52.3" text-anchor="start" font-weight="normal" fill="#000" stroke="#000" stroke-width="1.2">2</text>
<clipPath id="cl0"><path d="M3.82 -52.3 H18.63 V2 H12.23 V-5.57 H3.82 V-52.3 H3.82 Z"/></clipPath>
<text transform="translate(671.97 1339) scale(1.18 1)" font-family="'Liberation Sans', sans-serif" font-size="52.3" text-anchor="start" font-weight="normal" fill="#000" stroke="#000" stroke-width="1.2" clip-path="url(#cl0)">1</text>
<text transform="translate(852.86 1339)" font-family="'Liberation Sans', sans-serif" font-size="52.3" text-anchor="start" font-weight="normal" fill="#000" stroke="#000" stroke-width="1.2">0</text>
<clipPath id="cl1"><path d="M3.82 -52.3 H18.63 V2 H12.23 V-5.57 H3.82 V-52.3 H3.82 Z"/></clipPath>
<text transform="translate(1014.37 1339) scale(1.18 1)" font-family="'Liberation Sans', sans-serif" font-size="52.3" text-anchor="start" font-weight="normal" fill="#000" stroke="#000" stroke-width="1.2" clip-path="url(#cl1)">1</text>
<clipPath id="cl2"><path d="M3.82 -52.3 H18.63 V2 H12.23 V-5.57 H3.82 V-52.3 H3.82 Z"/></clipPath>
<text transform="translate(1211.97 1339) scale(1.18 1)" font-family="'Liberation Sans', sans-serif" font-size="52.3" text-anchor="start" font-weight="normal" fill="#000" stroke="#000" stroke-width="1.2" clip-path="url(#cl2)">1</text>
<text transform="translate(1407.76 1339)" font-family="'Liberation Sans', sans-serif" font-size="52.3" text-anchor="start" font-weight="normal" fill="#000" stroke="#000" stroke-width="1.2">0</text>
<text transform="translate(1453.24 1339)" font-family="'Liberation Sans', sans-serif" font-size="52.3" text-anchor="start" font-weight="bold" fill="#000" >....</text>
</svg></body></html>
